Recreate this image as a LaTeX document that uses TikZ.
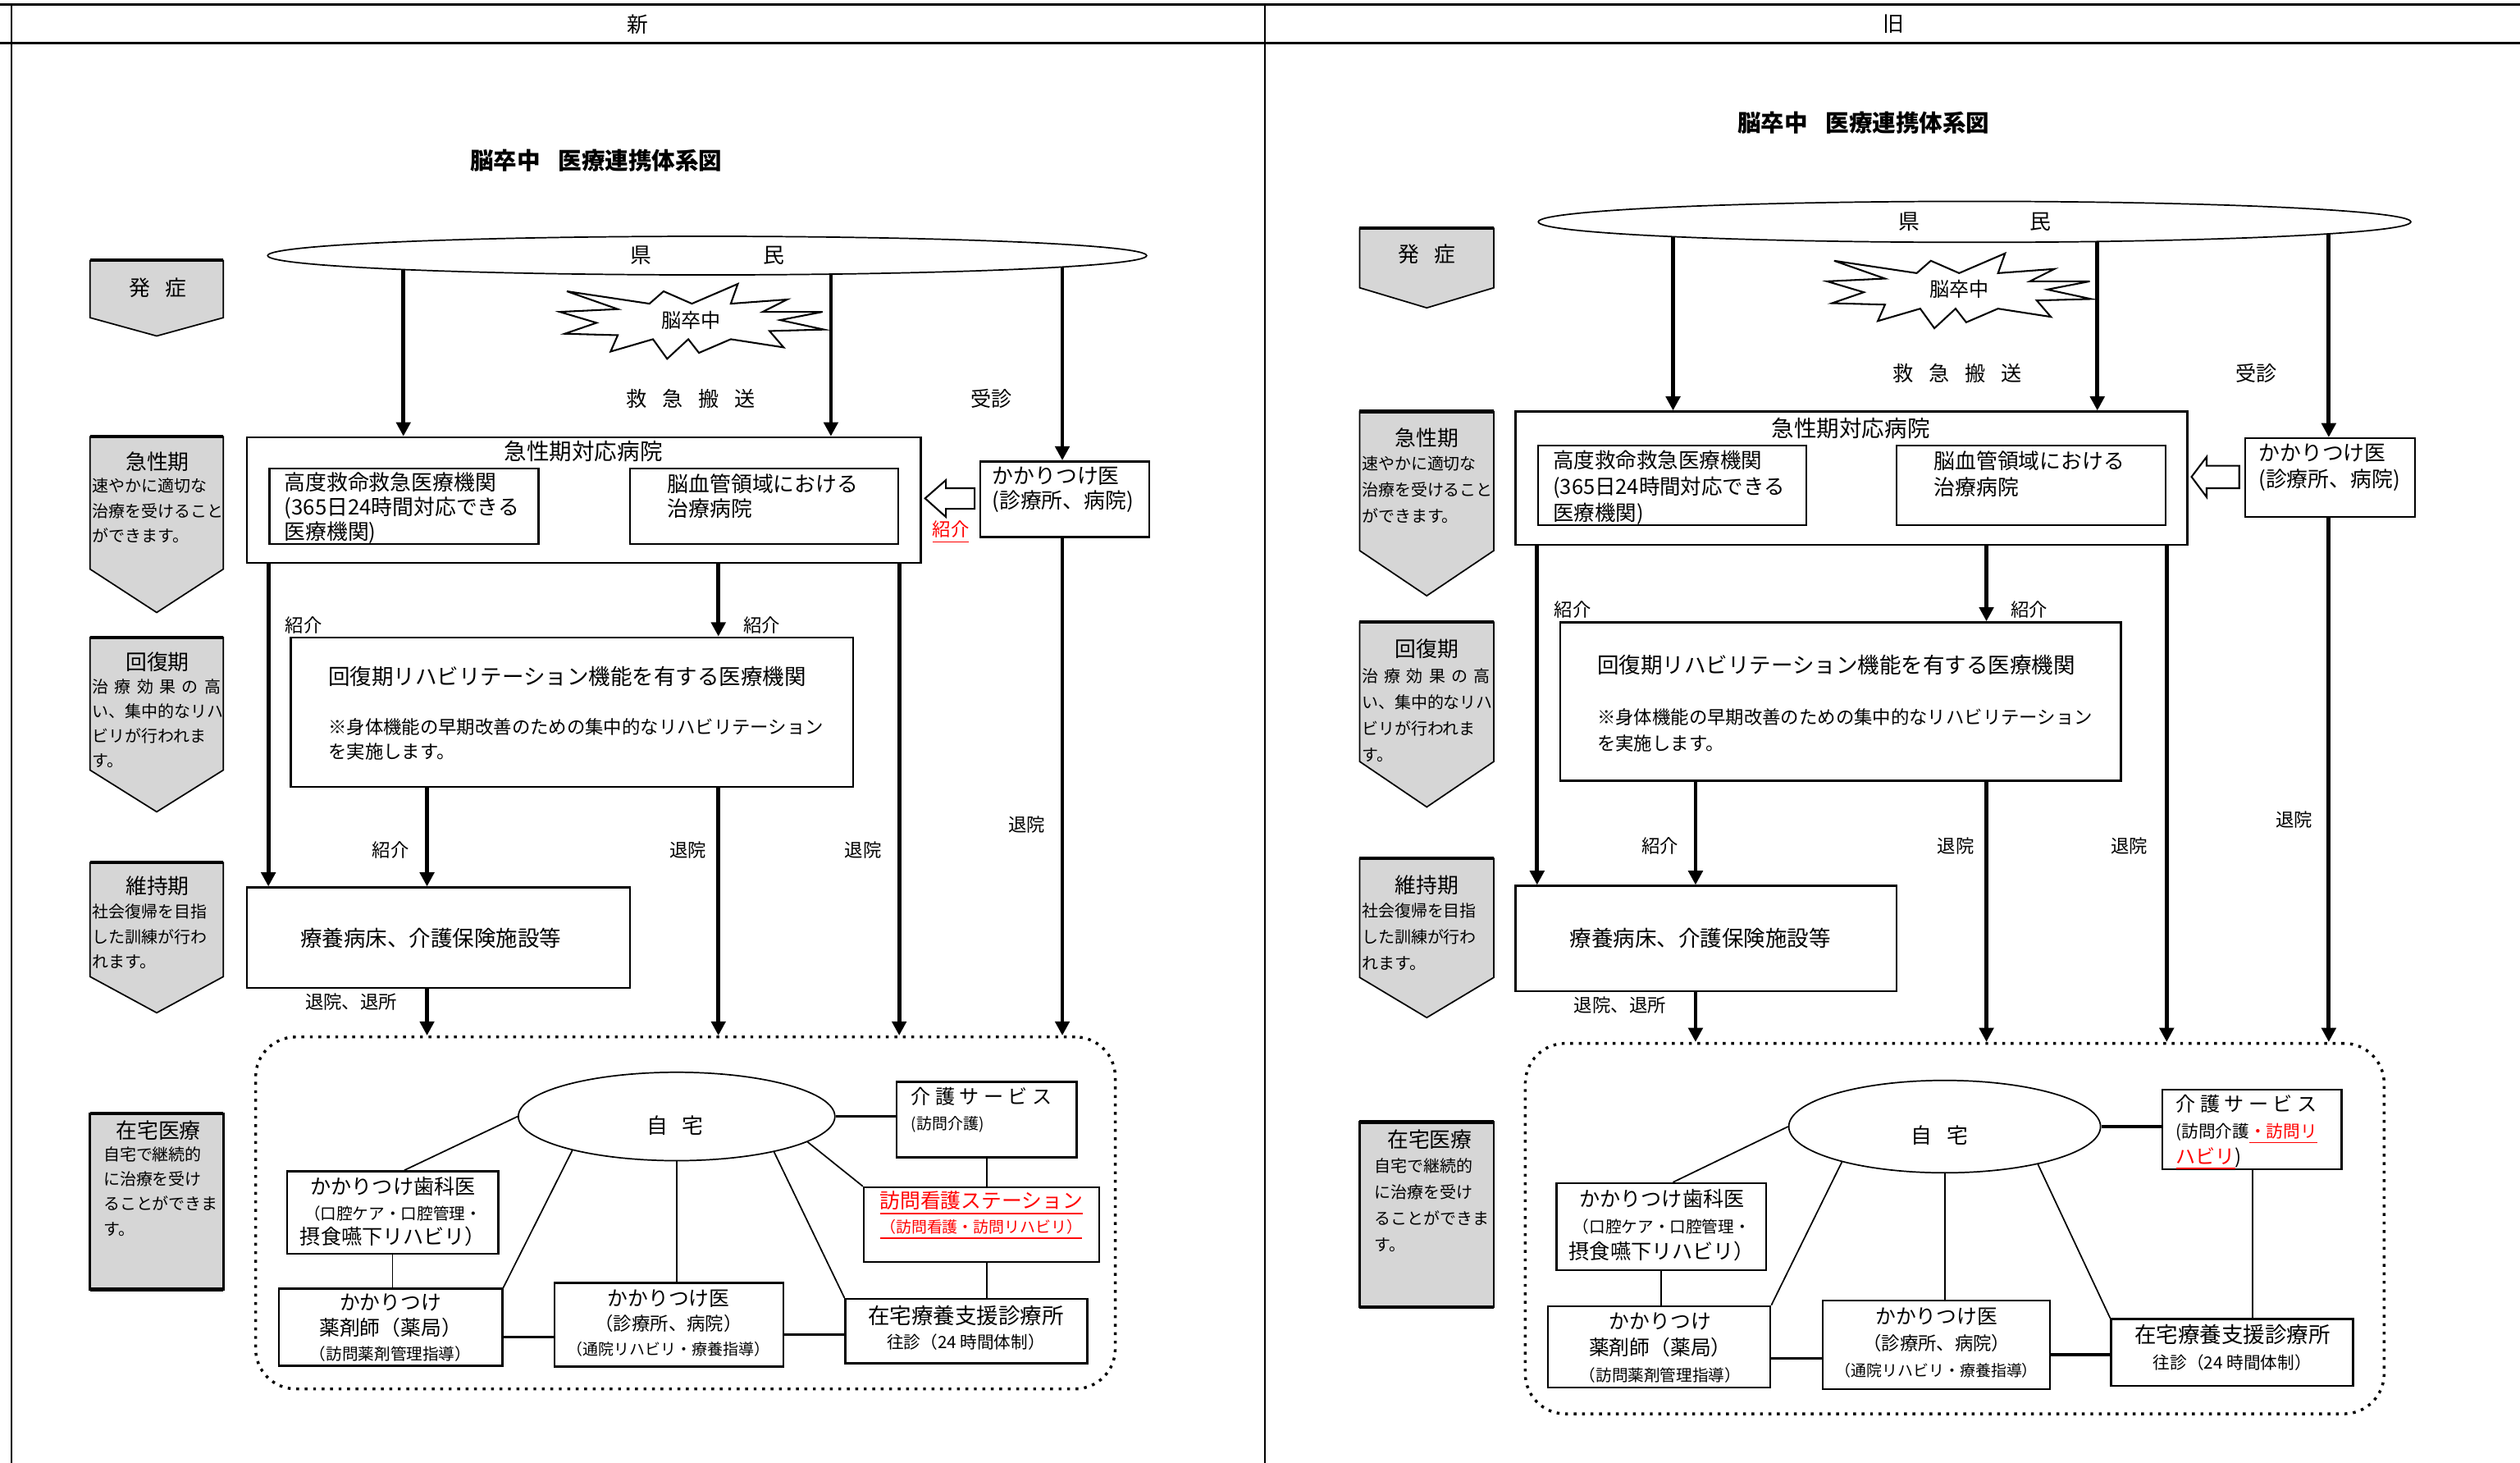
\documentclass[tikz,border=0pt]{standalone}
\usepackage{fontspec}
\setmainfont{Noto Sans CJK JP}
\usepackage{tikz}
\usetikzlibrary{arrows.meta}
\usetikzlibrary{shapes}
\usetikzlibrary{shapes.geometric}
\pgfdeclarelayer{background}
\pgfsetlayers{background,main}

\begin{document}
\begin{tikzpicture}[x=0.02cm,y=-0.02cm,
  box/.style={draw,line width=0.7pt,fill=white,inner sep=0pt},
  arr/.style={line width=1.4pt,-{Triangle[length=5pt,width=5pt]}},
  link/.style={line width=0.5pt},
  fs/.style={inner sep=0pt,font=\fontsize{#1}{8.8}\selectfont},
  fsw/.style={inner sep=0pt,font=\fontsize{#1}{9.3}\selectfont},
  phase/.style={draw,line width=0.5pt,fill=black!16},
  burst/.pic={\draw[line width=0.6pt,fill=white] (28.1,-23.4) -- (23.7,-11.1) -- (58.8,-13.7) -- (43.5,-6) -- (80.8,-6) -- (54.4,-0.9) -- (81.7,5) -- (47.8,5.9) -- (56.6,16.1) -- (23.7,11) -- (3.9,19.5) -- (-2.7,11) -- (-15.9,23.2) -- (-24.7,11) -- (-51.1,18.7) -- (-46.6,8.5) -- (-79.6,7.6) -- (-59.8,0.8) -- (-82.7,-6) -- (-46.6,-7.7) -- (-78.3,-18.8) -- (-26.9,-11.1) -- (-18.1,-18.8) -- (-0.5,-11.1) -- cycle;}]
\useasboundingbox (0,0) rectangle (1568,910);

% frame
\draw[line width=0.9pt] (0,3) -- (1568,3);
\draw[line width=0.9pt] (0,27) -- (1568,27);
\draw[line width=0.5pt] (7,3) -- (7,910);
\draw[line width=0.5pt] (787,3) -- (787,910);
\node[fs=7.5] (hnew) at (397,15) {新};
\node[fs=7.5] (hold) at (1178,15) {旧};

%%%%% 新
\node[fs=8.3] (ntitle) at (371,100) {\bfseries 脳卒中\hspace{0.75em}医療連携体系図};
\pic at (431,200) {burst};
\node[fs=7] (nstroke) at (430,199) {脳卒中};
\node[draw,ellipse,fill=white,line width=0.5pt,minimum width=10.94cm,minimum height=0.48cm,fs=7.5] (nken) at (440,159) {県\hspace{1.39cm}民};

% phases
\foreach \t/\s/\b in {162/197.6/209,271.6/354/381,396.5/479/505,536.5/607.5/630}{
  \filldraw[phase] (56,\t) -- (139,\t) -- (139,\s) -- (97.5,\b) -- (56,\s) -- cycle;
  \draw[line width=1.2pt] (56,\t) -- (139,\t);
}
\filldraw[phase,line width=0.8pt] (56,692.6) rectangle (139,802);
\draw[line width=1.3pt] (56,692.6) -- (139,692.6) (56,802) -- (139,802);
\node[fs=7.5] (nonset) at (98,179) {発\hspace{0.7em}症};
\node[fs=7.5] (nacuteh) at (98,287) {急性期};
\node[fs=5.8,anchor=west,align=left] (nacutet) at (57,317.6) {速やかに適切な\\治療を受けること\\ができます。};
\node[fs=7.5] (nrecovh) at (98,412) {回復期};
\node[fs=5.8,anchor=west,align=left] (nrecovt) at (57,450) {\makebox[1.6cm][s]{治 療 効 果 の 高}\\い、集中的なリハ\\ビリが行われま\\す。};
\node[fs=7.5] (nmainth) at (98,551) {維持期};
\node[fs=5.8,anchor=west,align=left] (nmaintt) at (57,582.5) {社会復帰を目指\\した訓練が行わ\\れます。};
\node[fs=7.5] (nhomeh) at (98.6,703) {在宅医療};
\node[fs=5.8,anchor=west,align=left] (nhomet) at (64,741) {自宅で継続的\\に治療を受け\\ることができま\\す。};

% hospitals
\node[box,minimum width=8.39cm,minimum height=1.56cm] (nacute) at (363.3,311) {};
\node[fs=8] (nacuteti) at (363,281) {急性期対応病院};
\node[box,minimum width=3.35cm,minimum height=0.94cm] (nkoudo) at (251.35,315) {};
\node[fs=7.5,anchor=west,align=left] (nkoudot) at (176.6,316) {高度救命救急医療機関\\(365日24時間対応できる\\医療機関)};
\node[box,minimum width=3.34cm,minimum height=0.94cm] (nnou) at (475.4,315) {};
\node[fs=7.5,anchor=west,align=left] (nnout) at (415,308.5) {脳血管領域における\\治療病院};
\node[box,minimum width=2.1cm,minimum height=0.94cm] (nkakari) at (662.5,310.5) {};
\node[fs=7.5,anchor=west,align=left] (nkakarit) at (617,304.5) {かかりつけ医\\(診療所、病院)};
\draw[line width=0.6pt,fill=white] (575.6,310) -- (588.6,298.6) -- (588.6,303.7) -- (606.4,303.7) -- (606.4,316.5) -- (588.6,316.5) -- (588.6,321.6) -- cycle;
\node[fs=6.5,text=red] (nrefer) at (591.6,331) {\underline{紹介}};
\node[box,minimum width=7cm,minimum height=1.86cm] (nrehab) at (356,443) {};
\node[fs=7.7,anchor=west] (nrehabt) at (204,421) {回復期リハビリテーション機能を有する医療機関};
\node[fs=6.5,anchor=west,align=left] (nrehabn) at (204,459.8) {※身体機能の早期改善のための集中的なリハビリテーション\\を実施します。};
\node[box,minimum width=4.77cm,minimum height=1.25cm] (nryou) at (272.8,583.3) {};
\node[fs=7.7] (nryout) at (268,583.5) {療養病床、介護保険施設等};

% home care
\node[draw,dotted,line width=1pt,rounded corners=0.5cm,minimum width=10.7cm,minimum height=4.38cm,inner sep=0pt] (nhome) at (426.5,754.5) {};
\node[draw,ellipse,line width=0.5pt,minimum width=3.94cm,minimum height=1.1cm,inner sep=0pt,fill=white] (njitaku) at (421,694.5) {};
\node[fs=7.5] (njitakut) at (420,700) {自\hspace{0.7em}宅};
\node[box,minimum width=2.24cm,minimum height=0.94cm] (nkaigo) at (614,696.5) {};
\node[fs=7,anchor=west,align=left] (nkaigot) at (566.7,690.5) {介 護 サ ー ビ ス\\\fontsize{5.5}{8.8}\selectfont (訪問介護)};
\node[box,minimum width=2.93cm,minimum height=0.93cm] (nhoumon) at (610.75,761.8) {};
\node[fs=7.2,align=center,text=red] (nhoumont) at (610.6,756) {\underline{訪問看護ステーション}\\\fontsize{5.5}{8.8}\selectfont \underline{（訪問看護・訪問リハビリ）}};
\node[box,minimum width=2.63cm,minimum height=1.03cm] (nshika) at (244.3,754.3) {};
\node[fs=7.3,align=center] (nshikat) at (244.5,753.8) {かかりつけ歯科医\\\fontsize{5.7}{8.8}\selectfont （口腔ケア・口腔管理・\\摂食嚥下リハビリ）};
\node[box,minimum width=2.78cm,minimum height=0.96cm] (nyaku) at (243.1,825.5) {};
\node[fs=7.2,align=center] (nyakut) at (243,826) {かかりつけ\\薬剤師（薬局）\\\fontsize{5.7}{8.8}\selectfont （訪問薬剤管理指導）};
\node[box,minimum width=2.85cm,minimum height=1.04cm] (nisha) at (416.15,824) {};
\node[fs=7.2,align=center] (nishat) at (416,823) {かかりつけ医\\\fontsize{6.5}{8.8}\selectfont （診療所、病院）\\\fontsize{5.5}{8.8}\selectfont （通院リハビリ・療養指導）};
\node[box,minimum width=3.01cm,minimum height=0.8cm] (nzaitaku) at (601.3,828) {};
\node[fs=7.7,align=center] (nzaitakut) at (601,826) {在宅療養支援診療所\\\fontsize{6}{8.8}\selectfont 往診（24 時間体制）};

% labels
\foreach \x/\y/\t [count=\i] in {189/389/紹介,474/389/紹介,243/529/紹介,428/529/退院,537/529/退院,639/513/退院,218.5/623/退院、退所}
  \node[fs=6.5] (nlab\i) at (\x,\y) {\t};
\node[fs=7.3] (nkyu) at (430,248) {救\hspace{0.75em}急\hspace{0.75em}搬\hspace{0.75em}送};
\node[fs=7.3] (njushin) at (617,248) {受診};

% arrows
\begin{pgfonlayer}{background}
\draw[arr] (251,0 |- nken.center) -- (251,0 |- nacute.north);
\draw[arr] (517,0 |- nken.center) -- (517,0 |- nacute.north);
\draw[arr] (661,0 |- nken.center) -- (661,0 |- nkakari.north);
\end{pgfonlayer}
\draw[arr] (nkoudo.west |- nacute.south) -- (nkoudo.west |- nryou.north);
\draw[arr] (447,0 |- nacute.south) -- (447,0 |- nrehab.north);
\draw[arr] (nnou.east |- nacute.south) -- (nnou.east |- nhome.north);
\draw[arr] (661,0 |- nkakari.south) -- (661,0 |- nhome.north);
\draw[arr] (265.7,0 |- nrehab.south) -- (265.7,0 |- nryou.north);
\draw[arr] (447,0 |- nrehab.south) -- (447,0 |- nhome.north);
\draw[arr] (265.7,0 |- nryou.south) -- (265.7,0 |- nhome.north);

\draw[line width=1pt] (njitaku.east) -- (njitaku.east -| nkaigo.west);
\draw[line width=0.7pt] (614,0 |- nkaigo.south) -- (614,0 |- nhoumon.north);
\draw[link] (njitaku.-11.1) -- (nhoumon.north west);
\draw[link] (njitaku.west) -- (251.6,0 |- nshika.north);
\draw[link] (njitaku.-162.3) -- (nyaku.north east);
\draw[link] (njitaku.south) -- (njitaku.south |- nisha.north);
\draw[link] (njitaku.-20.2) -- (nzaitaku.north west);
\draw[link] (nshika.south) -- (nshika.south |- nyaku.north);
\draw[line width=0.7pt] (614,0 |- nhoumon.south) -- (614,0 |- nzaitaku.north);
\draw[line width=1pt] (nyaku.-5) -- (nyaku.-5 -| nisha.west);
\draw[line width=1pt] (nisha.-5) -- (nisha.-5 -| nzaitaku.west);

%%%%% 旧
\node[fs=8.3] (otitle) at (1159.6,76.6) {\bfseries 脳卒中\hspace{0.75em}医療連携体系図};
\pic at (1219.5,181) {burst};
\node[fs=7] (ostroke) at (1219,180) {脳卒中};
\node[draw,ellipse,fill=white,line width=0.5pt,minimum width=10.86cm,minimum height=0.51cm,fs=7.5] (oken) at (1228.6,138) {県\hspace{1.37cm}民};

\foreach \t/\s/\b in {142/179/191.5,256/342.5/370.6,387/473.7/502,534/608/633}{
  \filldraw[phase] (846,\t) -- (929.5,\t) -- (929.5,\s) -- (887.75,\b) -- (846,\s) -- cycle;
  \draw[line width=1.2pt] (846,\t) -- (929.5,\t);
}
\filldraw[phase,line width=0.8pt] (846,698) rectangle (929.5,813);
\draw[line width=1.3pt] (846,698) -- (929.5,698) (846,813) -- (929.5,813);
\node[fs=7.5] (oonset) at (887.75,158) {発\hspace{0.7em}症};
\node[fs=7.5] (oacuteh) at (887.75,272.4) {急性期};
\node[fsw=5.8,anchor=west,align=left] (oacutet) at (847,304.8) {速やかに適切な\\治療を受けること\\ができます。};
\node[fs=7.5] (orecovh) at (887.75,403.6) {回復期};
\node[fsw=5.8,anchor=west,align=left] (orecovt) at (847,444.7) {\makebox[1.6cm][s]{治 療 効 果 の 高}\\い、集中的なリハ\\ビリが行われま\\す。};
\node[fs=7.5] (omainth) at (887.75,550.4) {維持期};
\node[fsw=5.8,anchor=west,align=left] (omaintt) at (847,582.8) {社会復帰を目指\\した訓練が行わ\\れます。};
\node[fs=7.5] (ohomeh) at (889.6,708.6) {在宅医療};
\node[fsw=5.8,anchor=west,align=left] (ohomet) at (855,749.5) {自宅で継続的\\に治療を受け\\ることができま\\す。};

\node[box,minimum width=8.36cm,minimum height=1.66cm] (oacute) at (1152,297.5) {};
\node[fs=8] (oacuteti) at (1151.6,266.5) {急性期対応病院};
\node[box,minimum width=3.34cm,minimum height=0.99cm] (okoudo) at (1040.5,301.85) {};
\node[fsw=7.4,anchor=west,align=left] (okoudot) at (966,303.4) {高度救命救急医療機関\\(365日24時間対応できる\\医療機関)};
\node[box,minimum width=3.35cm,minimum height=0.99cm] (onou) at (1263.8,301.85) {};
\node[fsw=7.5,anchor=west,align=left] (onout) at (1203,295) {脳血管領域における\\治療病院};
\node[box,minimum width=2.11cm,minimum height=0.98cm] (okakari) at (1449.8,297.1) {};
\node[fsw=7.5,anchor=west,align=left] (okakarit) at (1405,290.7) {かかりつけ医\\(診療所、病院)};
\draw[line width=0.6pt,fill=white] (1363.6,296.6) -- (1373,284.2) -- (1373,289.7) -- (1393.3,289.7) -- (1393.3,303.7) -- (1373,303.7) -- (1373,309.2) -- cycle;
\node[box,minimum width=6.98cm,minimum height=1.97cm] (orehab) at (1145.15,436.35) {};
\node[fs=7.7,anchor=west] (orehabt) at (993.5,413.6) {回復期リハビリテーション機能を有する医療機関};
\node[fsw=6.5,anchor=west,align=left] (orehabn) at (993.5,454.2) {※身体機能の早期改善のための集中的なリハビリテーション\\を実施します。};
\node[box,minimum width=4.74cm,minimum height=1.31cm] (oryou) at (1061.5,583.8) {};
\node[fs=7.7] (oryout) at (1058,583.6) {療養病床、介護保険施設等};

\node[draw,dotted,line width=1pt,rounded corners=0.5cm,minimum width=10.69cm,minimum height=4.61cm,inner sep=0pt] (ohome) at (1216.25,764.25) {};
\node[draw,ellipse,line width=0.5pt,minimum width=3.88cm,minimum height=1.15cm,inner sep=0pt,fill=white] (ojitaku) at (1210,700.8) {};
\node[fs=7.5] (ojitakut) at (1207,706) {自\hspace{0.7em}宅};
\node[box,minimum width=2.23cm,minimum height=0.99cm] (okaigo) at (1401.25,702.7) {};
\node[fsw=7,anchor=west,align=left] (okaigot) at (1353.6,704.3) {介 護 サ ー ビ ス\\\fontsize{6}{9.3}\selectfont (訪問介護\textcolor{red}{\underline{・訪問リ}}\\\textcolor{red}{\underline{ハビリ}})};
\node[box,minimum width=2.61cm,minimum height=1.08cm] (oshika) at (1033.75,763) {};
\node[fsw=7.3,align=center] (oshikat) at (1034,762) {かかりつけ歯科医\\\fontsize{5.7}{9.3}\selectfont （口腔ケア・口腔管理・\\摂食嚥下リハビリ）};
\node[box,minimum width=2.77cm,minimum height=1.01cm] (oyaku) at (1032.3,837.75) {};
\node[fsw=7.2,align=center] (oyakut) at (1033,838.5) {かかりつけ\\薬剤師（薬局）\\\fontsize{5.7}{9.3}\selectfont （訪問薬剤管理指導）};
\node[box,minimum width=2.83cm,minimum height=1.1cm] (oisha) at (1204.8,836.5) {};
\node[fsw=7.2,align=center] (oishat) at (1205,835.4) {かかりつけ医\\\fontsize{6.5}{9.3}\selectfont （診療所、病院）\\\fontsize{5.5}{9.3}\selectfont （通院リハビリ・療養指導）};
\node[box,minimum width=3.01cm,minimum height=0.83cm] (ozaitaku) at (1388.8,841.25) {};
\node[fsw=7.7,align=center] (ozaitakut) at (1389,838.4) {在宅療養支援診療所\\\fontsize{6}{9.3}\selectfont 往診（24 時間体制）};

\foreach \x/\y/\t [count=\i] in {978.5/379/紹介,1262.6/379/紹介,1033/526/紹介,1217/526/退院,1325/526/退院,1427.5/510/退院,1008/625.3/退院、退所}
  \node[fs=6.5] (olab\i) at (\x,\y) {\t};
\node[fs=7.3] (okyu) at (1218,232) {救\hspace{0.75em}急\hspace{0.75em}搬\hspace{0.75em}送};
\node[fs=7.3] (ojushin) at (1404,232) {受診};

\begin{pgfonlayer}{background}
\draw[arr] (1041,0 |- oken.center) -- (1041,0 |- oacute.north);
\draw[arr] (1305,0 |- oken.center) -- (1305,0 |- oacute.north);
\draw[arr] (1449,0 |- oken.center) -- (1449,0 |- okakari.north);
\end{pgfonlayer}
\draw[arr] (okoudo.west |- oacute.south) -- (okoudo.west |- oryou.north);
\draw[arr] (1236,0 |- oacute.south) -- (1236,0 |- orehab.north);
\draw[arr] (onou.east |- oacute.south) -- (onou.east |- ohome.north);
\draw[arr] (1449,0 |- okakari.south) -- (1449,0 |- ohome.north);
\draw[arr] (1055,0 |- orehab.south) -- (1055,0 |- oryou.north);
\draw[arr] (1236,0 |- orehab.south) -- (1236,0 |- ohome.north);
\draw[arr] (1055,0 |- oryou.south) -- (1055,0 |- ohome.north);

\draw[line width=1pt] (ojitaku.east) -- (ojitaku.east -| okaigo.west);
\draw[line width=0.7pt] (1401.5,0 |- okaigo.south) -- (1401.5,0 |- ozaitaku.north);
\draw[link] (ojitaku.west) -- (1041,0 |- oshika.north);
\draw[link] (ojitaku.-161.9) -- (oyaku.north east);
\draw[link] (ojitaku.south) -- (ojitaku.south |- oisha.north);
\draw[link] (ojitaku.-22) -- (ozaitaku.north west);
\draw[link] (oshika.south) -- (oshika.south |- oyaku.north);
\draw[line width=1pt] (oyaku.-6) -- (oyaku.-6 -| oisha.west);
\draw[line width=1pt] (oisha.-5.2) -- (oisha.-5.2 -| ozaitaku.west);
\end{tikzpicture}
\end{document}
